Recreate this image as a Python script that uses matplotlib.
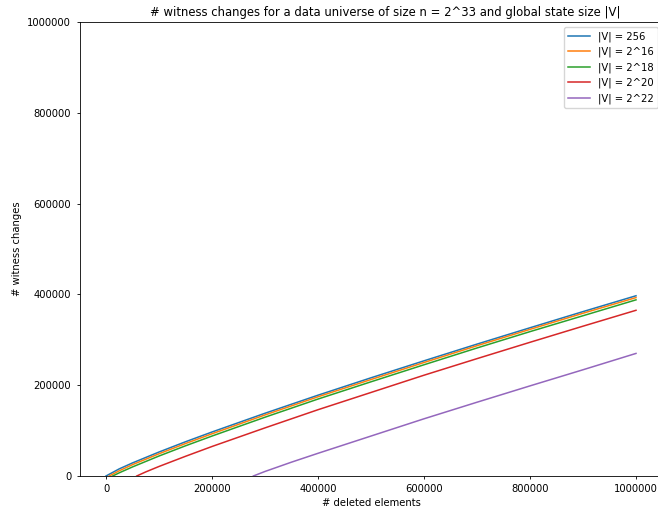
import matplotlib
matplotlib.use("Agg")
import matplotlib.pyplot as plt

# data (x = # deleted elements, y = # witness changes)
x_256 = [0, 25000, 50000, 100000, 150000, 200000, 300000, 400000, 500000, 600000, 700000, 800000, 900000, 1000000]
y_256 = [0, 15700, 28800, 52800, 75400, 96900, 138200, 178000, 216300, 253700, 290500, 326500, 362100, 397000]

x_2_16 = [6000, 25000, 50000, 100000, 150000, 200000, 300000, 400000, 500000, 600000, 700000, 800000, 900000, 1000000]
y_2_16 = [0, 11500, 25000, 49000, 71500, 93000, 134500, 174500, 212500, 250000, 287000, 323000, 358500, 393000]

x_2_18 = [12600, 25000, 50000, 100000, 150000, 200000, 300000, 400000, 500000, 600000, 700000, 800000, 900000, 1000000]
y_2_18 = [0, 7000, 20000, 44000, 66500, 88000, 129500, 169500, 207500, 245000, 282000, 318000, 353000, 388000]

x_2_20 = [58000, 75000, 100000, 150000, 200000, 300000, 400000, 500000, 600000, 700000, 800000, 900000, 1000000]
y_2_20 = [0, 9000, 21000, 43400, 65000, 106000, 146000, 184000, 222000, 258500, 294500, 330000, 365000]

x_2_22 = [278000, 300000, 350000, 400000, 500000, 600000, 700000, 800000, 900000, 1000000]
y_2_22 = [0, 10000, 30500, 50000, 88000, 126000, 162500, 198500, 234000, 270000]

labels = ["|V| = 256", "|V| = 2^16", "|V| = 2^18", "|V| = 2^20", "|V| = 2^22"]
series = [(x_256, y_256), (x_2_16, y_2_16), (x_2_18, y_2_18), (x_2_20, y_2_20), (x_2_22, y_2_22)]

fs = 7.2
fig = plt.figure(figsize=(6.58, 5.13), dpi=100)
ax = fig.add_axes([79.5 / 658, 37 / 513, 583 / 658, 454 / 513])

for (xs, ys), lab in zip(series, labels):
    ax.plot(xs, ys, label=lab, linewidth=1.1)

ax.set_xlim(-50000, 1050000)
ax.set_ylim(0, 1000000)
ax.set_xticks([0, 200000, 400000, 600000, 800000, 1000000])
ax.set_yticks([0, 200000, 400000, 600000, 800000, 1000000])
ax.ticklabel_format(style="plain", useOffset=False)
ax.tick_params(labelsize=fs, length=2.5, width=0.6)
for sp in ax.spines.values():
    sp.set_linewidth(0.6)

ax.set_title("# witness changes for a data universe of size n = 2^33 and global state size |V|",
             fontsize=8.4, pad=4, x=(385 - 79.5) / 583)
ax.set_xlabel("# deleted elements", fontsize=fs, labelpad=3)
ax.set_ylabel("# witness changes", fontsize=fs, labelpad=4)
ax.legend(loc="upper right", fontsize=fs, handlelength=2.2)

fig.savefig("out.png", dpi=100)
